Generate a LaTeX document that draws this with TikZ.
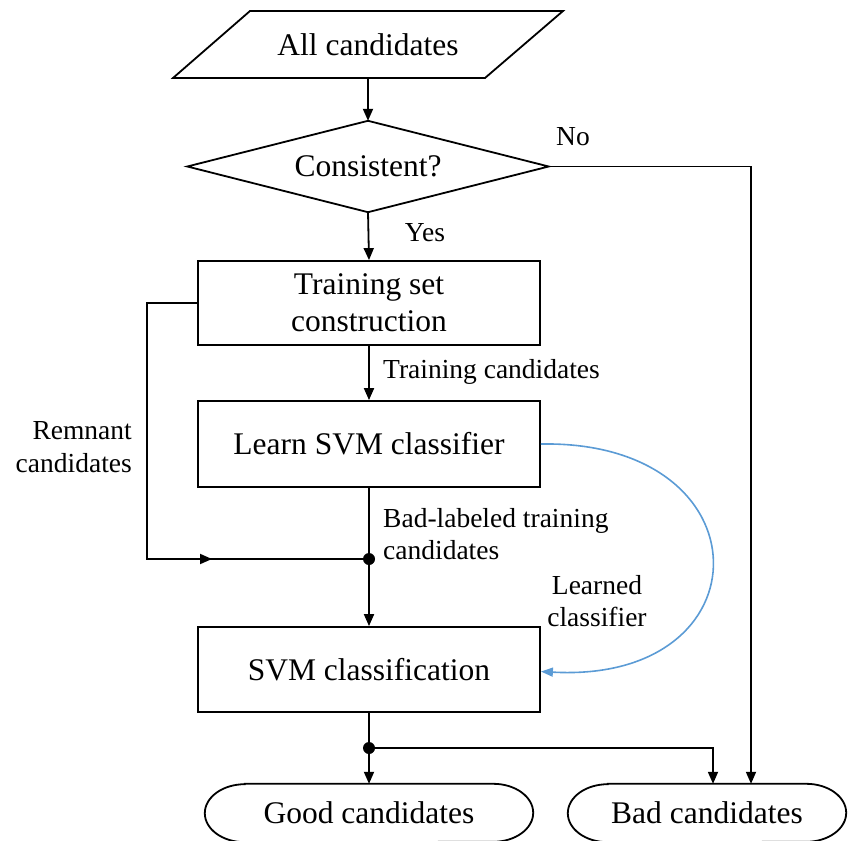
\documentclass[tikz,border=0pt]{standalone}
\usepackage{fontspec}
\setmainfont{Liberation Serif}
\usetikzlibrary{arrows.meta}
\definecolor{curveblue}{RGB}{91,155,213}
\tikzset{
  big/.style={font=\fontsize{31.5}{36}\selectfont},
  small/.style={font=\fontsize{27.5}{32.5}\selectfont},
  boxnode/.style={draw, line width=1.8pt, minimum width=342pt, inner sep=0pt, big, align=center},
  plain/.style={inner sep=0pt, big},
  line/.style={line width=1.8pt},
  arr/.style={line width=1.8pt, -{Triangle[length=12pt,width=10pt]}},
  bluearr/.style={line width=1.6pt, curveblue, -{Triangle[length=12pt,width=9pt]}},
}
\begin{document}
\begin{tikzpicture}[x=1pt,y=-1pt]
\useasboundingbox (0,0) rectangle (848,840);

% start parallelogram
\node[plain, minimum width=390pt, minimum height=67pt] (start) at (368,44.5) {\raisebox{-2pt}{All candidates}};
\draw[line] (173,78) -- (250,11) -- (563,11) -- (485,78) -- cycle;

% decision diamond
\node[plain, minimum width=361pt, minimum height=91pt] (dec) at (368,166.5) {Consistent?};
\draw[line] (dec.north) -- (dec.east) -- (dec.south) -- (dec.west) -- cycle;

% boxes
\node[boxnode, minimum height=84pt] (box1) at (369,303) {Training set\\[1pt]construction};
\node[boxnode, minimum height=86pt] (box2) at (369,444) {Learn SVM classifier};
\node[boxnode, minimum height=85pt] (box3) at (369,669.5) {SVM classification};

% terminals
\node[plain, minimum width=328pt, minimum height=58pt] (good) at (369,813) {Good candidates};
\draw[line] ([xshift=40pt]good.north west) -- ([xshift=-40pt]good.north east)
  arc[start angle=90, end angle=-90, x radius=40pt, y radius=29pt]
  -- ([xshift=40pt]good.south west)
  arc[start angle=270, end angle=90, x radius=40pt, y radius=29pt] -- cycle;
\node[plain, minimum width=278pt, minimum height=58pt] (bad) at (707,813) {Bad candidates};
\draw[line] ([xshift=40pt]bad.north west) -- ([xshift=-40pt]bad.north east)
  arc[start angle=90, end angle=-90, x radius=40pt, y radius=29pt]
  -- ([xshift=40pt]bad.south west)
  arc[start angle=270, end angle=90, x radius=40pt, y radius=29pt] -- cycle;

% junctions
\coordinate (j1) at (369,559);
\coordinate (j2) at (369,748);
\coordinate (r1) at (147,303);
\coordinate (r2) at (147,559);
\coordinate (r3) at (212,559);

% connectors
\draw[arr] (start.south) -- (dec.north);
\draw[arr] (dec.south) -- (box1.north);
\draw[arr] (dec.east) -| ([xshift=44pt]bad.north);
\draw[arr] (box1.south) -- (box2.north);
\draw[line] (box2.south) -- (j1);
\draw[arr] (j1) -- (box3.north);
\draw[line] (box1.west) -- (r1) -- (r2) -- (j1);
\draw[arr] (r2) -- (r3);
\draw[line] (box3.south) -- (j2);
\draw[arr] (j2) -- (good.north);
\draw[arr] (j2) -| ([xshift=6pt]bad.north);
\fill (j1) circle (6pt);
\fill (j2) circle (6pt);
\draw[bluearr] (box2.east) .. controls (769,440) and (769,684) .. ([yshift=-2pt]box3.east);

% labels
\node[small, inner sep=0pt] (lno) at (573,137) {No};
\node[small, inner sep=0pt] (lyes) at (425,233) {Yes};
\node[small, inner sep=0pt, anchor=west] (ltrain) at (383,372) {Training candidates};
\node[small, inner sep=0pt, anchor=west, align=left] (lbad) at (383,534) {Bad-labeled training\\[-1pt]candidates};
\node[small, inner sep=0pt, anchor=east, align=right] (lrem) at (132,447) {Remnant\\candidates};
\node[small, inner sep=0pt, align=center] (llearn) at (597,601) {Learned\\classifier};
\end{tikzpicture}
\end{document}
